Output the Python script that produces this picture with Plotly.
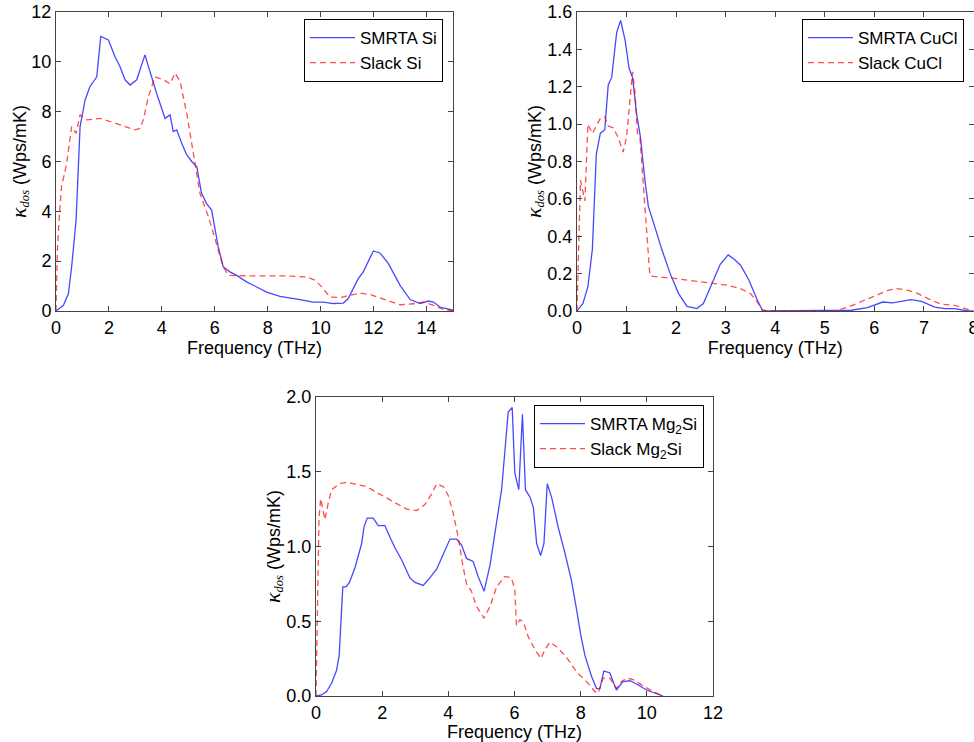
import plotly.graph_objects as go

# ---------------- Data: Si ----------------
si_smrta_f = [0, 0.28, 0.47, 0.59, 0.76, 0.91, 1.1, 1.28, 1.54, 1.69, 1.98, 2.23, 2.42, 2.61, 2.8, 3.05,
              3.36, 3.55, 3.8, 4.12, 4.31, 4.43, 4.56, 4.75, 4.94, 5.13, 5.32, 5.5, 5.69, 5.88, 6.13,
              6.32, 6.57, 6.83, 7.2, 7.96, 8.46, 9.22, 9.72, 10.1, 10.48, 10.86, 11.04, 11.42, 11.61,
              11.99, 12.24, 12.56, 13.0, 13.38, 13.76, 14.07, 14.26, 14.51, 15.0]
si_smrta_k = [0, 0.23, 0.7, 1.77, 3.65, 7.4, 8.47, 9.0, 9.4, 11.02, 10.88, 10.2, 9.8, 9.28, 9.07, 9.28,
              10.28, 9.6, 8.74, 7.73, 7.87, 7.2, 7.27, 6.73, 6.26, 6.0, 5.79, 4.72, 4.31, 4.05, 2.57,
              1.77, 1.57, 1.43, 1.17, 0.76, 0.59, 0.46, 0.36, 0.36, 0.3, 0.32, 0.5, 1.3, 1.57,
              2.41, 2.33, 1.9, 1.03, 0.46, 0.3, 0.4, 0.36, 0.16, 0.03]
si_slack_f = [0, 0.05, 0.13, 0.21, 0.4, 0.59, 0.76, 0.91, 1.16, 1.66, 2.17, 2.67, 2.98, 3.17, 3.3, 3.49,
              3.74, 4.06, 4.31, 4.5, 4.69, 4.94, 5.19, 5.44, 5.76, 6.07, 6.32, 6.51, 7.33, 8.59, 9.47,
              9.79, 10.04, 10.35, 10.73, 11.11, 11.49, 11.87, 12.37, 13.0, 13.5, 13.88, 14.26, 14.63, 15.0]
si_slack_k = [0, 2.4, 3.9, 5.0, 5.9, 7.4, 7.13, 7.87, 7.67, 7.73, 7.56, 7.4, 7.27, 7.33, 7.67, 8.6,
              9.4, 9.28, 9.12, 9.55, 9.2, 7.93, 6.33, 4.72, 3.78, 2.7, 1.77, 1.43, 1.41, 1.41, 1.37,
              1.23, 0.97, 0.56, 0.54, 0.63, 0.72, 0.66, 0.47, 0.25, 0.29, 0.36, 0.23, 0.07, 0]

# ---------------- Data: CuCl ----------------
cucl_smrta_f = [0, 0.12, 0.22, 0.31, 0.39, 0.47, 0.56, 0.63, 0.70, 0.80, 0.88, 0.97, 1.05, 1.12, 1.20,
                1.28, 1.37, 1.44, 1.57, 1.71, 1.88, 2.05, 2.22, 2.42, 2.55, 2.72, 2.89, 3.05, 3.16, 3.30,
                3.47, 3.64, 3.74, 3.84, 5.19, 5.53, 5.86, 6.17, 6.37, 6.54, 6.74, 6.95, 7.22, 7.42, 7.62,
                7.89, 8.0]
cucl_smrta_k = [0, 0.04, 0.13, 0.33, 0.84, 0.95, 0.97, 1.21, 1.25, 1.49, 1.555, 1.45, 1.30, 1.25, 1.06,
                0.93, 0.70, 0.56, 0.45, 0.33, 0.2, 0.093, 0.025, 0.013, 0.04, 0.15, 0.25, 0.30, 0.28, 0.245,
                0.165, 0.057, 0.004, 0, 0.0, 0.004, 0.018, 0.048, 0.043, 0.052, 0.061, 0.052, 0.021, 0.013, 0.013,
                0, 0]
cucl_slack_f = [0, 0.03, 0.07, 0.11, 0.16, 0.22, 0.31, 0.39, 0.47, 0.56, 0.63, 0.73, 0.83, 0.93, 1.0,
                1.07, 1.12, 1.17, 1.22, 1.27, 1.34, 1.41, 1.47, 1.54, 2.01, 2.49, 3.03, 3.30, 3.50, 3.64,
                3.74, 3.84, 5.19, 5.46, 5.73, 6.0, 6.27, 6.44, 6.64, 6.88, 7.08, 7.35, 7.62, 7.89, 8.0]
cucl_slack_k = [0, 0.38, 0.70, 0.65, 0.59, 1.0, 0.95, 0.99, 1.03, 1.04, 0.99, 0.98, 0.93, 0.85, 0.93,
                1.13, 1.28, 1.17, 0.95, 0.93, 0.66, 0.38, 0.19, 0.185, 0.173, 0.156, 0.138, 0.12, 0.093, 0.048,
                0.004, 0, 0, 0.02, 0.048, 0.079, 0.11, 0.12, 0.114, 0.093, 0.066, 0.036, 0.030, 0.007, 0]

# ---------------- Data: Mg2Si ----------------
mg_smrta_f = [0, 0.17, 0.32, 0.47, 0.62, 0.70, 0.81, 0.91, 1.01, 1.18, 1.38, 1.45, 1.55, 1.73, 1.88,
              2.08, 2.24, 2.39, 2.59, 2.84, 2.99, 3.24, 3.44, 3.65, 3.85, 4.05, 4.25, 4.40, 4.55, 4.75,
              4.90, 5.08, 5.26, 5.44, 5.61, 5.81, 5.93, 6.01, 6.13, 6.24, 6.33, 6.47, 6.57, 6.67, 6.79,
              6.89, 6.99, 7.12, 7.32, 7.52, 7.72, 7.88, 8.0, 8.13, 8.33, 8.48, 8.58, 8.70, 8.88, 9.08,
              9.28, 9.49, 9.69, 9.99, 10.29, 10.49]
mg_smrta_k = [0, 0.007, 0.03, 0.085, 0.17, 0.27, 0.73, 0.73, 0.76, 0.86, 1.02, 1.13, 1.19, 1.19, 1.14,
              1.14, 1.06, 0.99, 0.91, 0.79, 0.76, 0.74, 0.79, 0.85, 0.95, 1.05, 1.05, 1.01, 0.92, 0.90,
              0.80, 0.70, 0.875, 1.13, 1.38, 1.90, 1.93, 1.49, 1.38, 1.885, 1.38, 1.33, 1.26, 1.02, 0.94,
              1.02, 1.42, 1.33, 1.13, 0.96, 0.775, 0.575, 0.41, 0.27, 0.13, 0.05, 0.05, 0.167, 0.156, 0.04,
              0.096, 0.102, 0.08, 0.04, 0.013, 0]
mg_slack_f = [0, 0.04, 0.09, 0.14, 0.20, 0.27, 0.37, 0.47, 0.72, 0.93, 1.13, 1.53, 1.93, 2.34, 2.74,
              3.04, 3.29, 3.49, 3.65, 3.85, 4.0, 4.15, 4.30, 4.45, 4.55, 4.70, 4.85, 5.08, 5.26, 5.46,
              5.71, 5.91, 6.01, 6.06, 6.16, 6.26, 6.41, 6.62, 6.80, 6.92, 7.07, 7.27, 7.57, 7.88, 8.18,
              8.43, 8.53, 8.68, 8.88, 9.08, 9.23, 9.39, 9.59, 9.89, 10.19, 10.49]
mg_slack_k = [0, 0.55, 1.18, 1.32, 1.26, 1.18, 1.29, 1.38, 1.42, 1.43, 1.42, 1.40, 1.35, 1.30, 1.25,
              1.24, 1.28, 1.35, 1.42, 1.40, 1.34, 1.22, 1.06, 0.86, 0.75, 0.70, 0.60, 0.52, 0.60, 0.73,
              0.80, 0.79, 0.71, 0.47, 0.51, 0.50, 0.40, 0.31, 0.25, 0.31, 0.36, 0.33, 0.26, 0.16, 0.096,
              0.029, 0.018, 0.12, 0.12, 0.05, 0.096, 0.12, 0.11, 0.067, 0.029, 0]

# ---------------- Axis tick values ----------------
si_xticks = [0, 2, 4, 6, 8, 10, 12, 14]
si_yticks = [0, 2, 4, 6, 8, 10, 12]
cucl_xticks = [0, 1, 2, 3, 4, 5, 6, 7, 8]
cucl_yticks = [0.0, 0.2, 0.4, 0.6, 0.8, 1.0, 1.2, 1.4, 1.6]
mg_xticks = [0, 2, 4, 6, 8, 10, 12]
mg_yticks = [0.0, 0.5, 1.0, 1.5, 2.0]

BLUE = "rgba(0,0,255,0.72)"
RED = "rgba(255,0,0,0.70)"
FONT = "Liberation Sans, Arial, sans-serif"
W, H = 974, 742

fig = go.Figure()

def add_pair(xa, ya, leg, fs, ks, fr, kr, name1, name2):
    fig.add_trace(go.Scatter(x=fs, y=ks, mode="lines", name=name1, xaxis=xa, yaxis=ya,
                             legend=leg,
                             line=dict(color=BLUE, width=1.3)))
    fig.add_trace(go.Scatter(x=fr, y=kr, mode="lines", name=name2, xaxis=xa, yaxis=ya,
                             legend=leg,
                             line=dict(color=RED, width=1.3, dash="6px,4px")))

add_pair("x", "y", "legend", si_smrta_f, si_smrta_k, si_slack_f, si_slack_k, "SMRTA Si", "Slack Si")
add_pair("x2", "y2", "legend2", cucl_smrta_f, cucl_smrta_k, cucl_slack_f, cucl_slack_k,
         "SMRTA CuCl", "Slack CuCl")
add_pair("x3", "y3", "legend3", mg_smrta_f, mg_smrta_k, mg_slack_f, mg_slack_k,
         "SMRTA Mg<sub>2</sub>Si", "Slack Mg<sub>2</sub>Si")

def px_dom(a, b, total):
    return [a / total, b / total]

def ydom(top, bottom):
    return [1 - bottom / H, 1 - top / H]

YTITLE = ('<span style="font-family:Liberation Serif;font-size:22px"><i>κ</i></span>'
          '<span style="font-family:Liberation Serif;font-size:18px"><sub><i>dos</i></sub></span>'
          ' (Wps/mK)')

axis_common = dict(showline=True, linecolor="#444", linewidth=1, mirror="ticks",
                   ticks="inside", ticklen=5, tickcolor="#444", showgrid=False, zeroline=False,
                   automargin=False, ticklabeloverflow="allow",
                   tickfont=dict(family=FONT, size=18, color="black"))

def xax(dom, rng, ticks, anchor):
    d = dict(axis_common)
    d.update(domain=dom, range=rng, tickvals=ticks, anchor=anchor,
             title=dict(text="Frequency (THz)", font=dict(family=FONT, size=18, color="black"),
                        standoff=0))
    return d

def yax(dom, rng, ticks, anchor, fmt):
    d = dict(axis_common)
    d.update(domain=dom, range=rng, tickvals=ticks, anchor=anchor, tickformat=fmt,
             title=dict(text=YTITLE, font=dict(family=FONT, size=18, color="black"), standoff=0))
    return d

fig.update_layout(
    width=W, height=H, margin=dict(l=0, r=0, t=0, b=0, autoexpand=False),
    paper_bgcolor="white", plot_bgcolor="white",
    showlegend=True,
    xaxis=xax(px_dom(56, 453, W), [0, 15], si_xticks, "y"),
    yaxis=yax(ydom(12, 311), [0, 12], si_yticks, "x", "d"),
    xaxis2=xax(px_dom(577, 973.5, W), [0, 8], cucl_xticks, "y2"),
    yaxis2=yax(ydom(12, 311), [0, 1.6], cucl_yticks, "x2", ".1f"),
    xaxis3=xax(px_dom(316, 713, W), [0, 12], mg_xticks, "y3"),
    yaxis3=yax(ydom(397, 696), [0, 2.0], mg_yticks, "x3", ".1f"),
)

leg_common = dict(bordercolor="black", borderwidth=1, bgcolor="white",
                  font=dict(family=FONT, size=17, color="black"),
                  xanchor="right", yanchor="top", itemwidth=45)
fig.update_layout(
    legend=dict(leg_common, x=443 / W, y=1 - 19 / H),
    legend2=dict(leg_common, x=964 / W, y=1 - 19 / H),
    legend3=dict(leg_common, x=704 / W, y=1 - 405 / H),
)

fig.write_html("out.html")
